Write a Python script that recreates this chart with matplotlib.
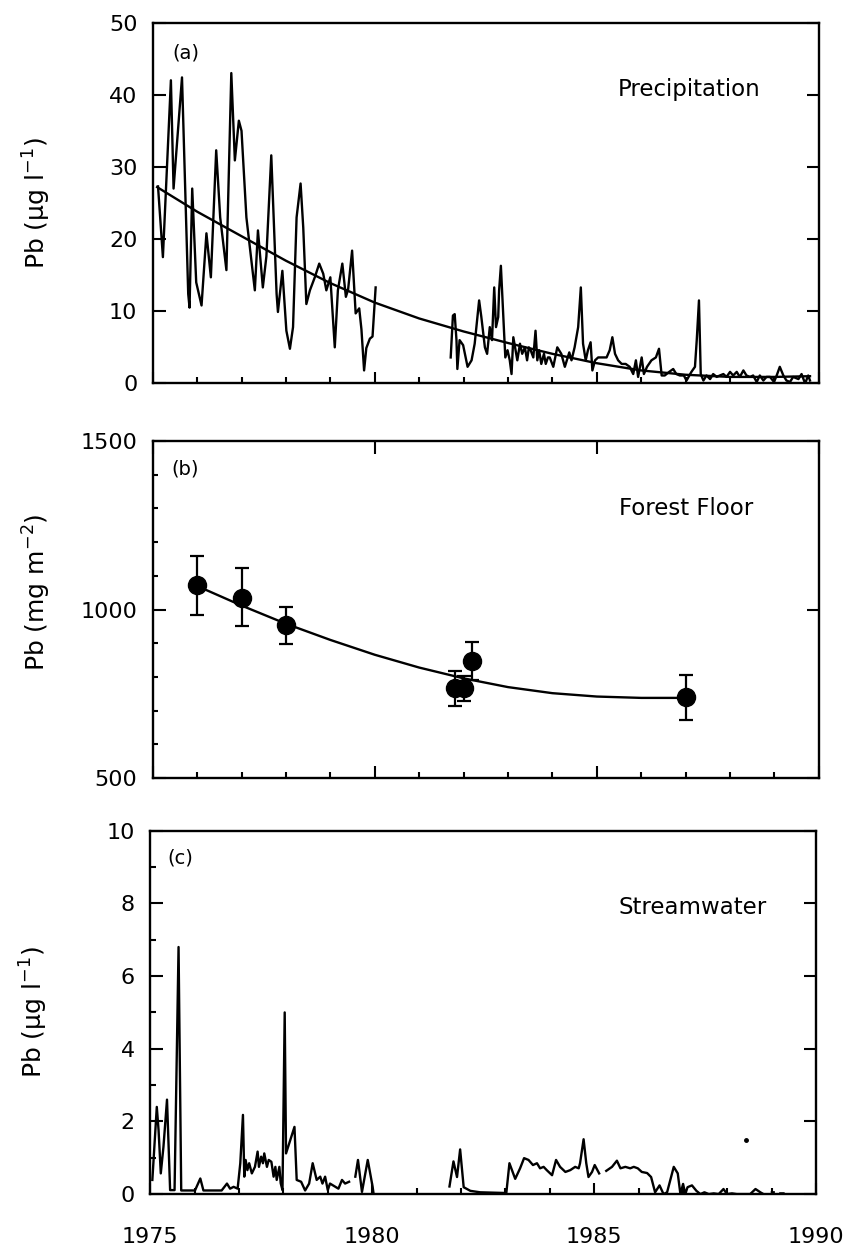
import numpy as np
import matplotlib
matplotlib.use("Agg")
import matplotlib.pyplot as plt

plt.rcParams['font.family'] = ['DejaVu Sans']

# (a) precipitation Pb, ug/l  (nan = gap in record)
precip_year = [1975.12, 1975.23, 1975.41, 1975.47, 1975.66, 1975.80, 1975.83, 1975.89, 1975.98,
               1976.10, 1976.21, 1976.31, 1976.43, 1976.52, 1976.66, 1976.77, 1976.85, 1976.94,
               1977.00, 1977.11, 1977.30, 1977.37, 1977.48, 1977.56, 1977.67, 1977.79, 1977.82,
               1977.92, 1978.01, 1978.09, 1978.16, 1978.24, 1978.33, 1978.39, 1978.46, 1978.54,
               1978.65, 1978.75, 1978.84, 1978.91, 1979.00, 1979.10, 1979.17, 1979.27, 1979.35,
               1979.40, 1979.49, 1979.57, 1979.65, 1979.70, 1979.76, 1979.81, 1979.89, 1979.95,
               1980.02, 1980.9,
               1981.71, 1981.76, 1981.80, 1981.84, 1981.86, 1981.91, 1981.99, 1982.09, 1982.18,
               1982.25, 1982.35, 1982.40, 1982.48, 1982.53, 1982.59, 1982.64, 1982.69, 1982.73,
               1982.78, 1982.80, 1982.84, 1982.88, 1982.91, 1982.94, 1982.99, 1983.04, 1983.08,
               1983.12, 1983.17, 1983.21, 1983.27, 1983.32, 1983.38, 1983.43, 1983.47, 1983.51,
               1983.57, 1983.62, 1983.66, 1983.70, 1983.75, 1983.81, 1983.85, 1983.90, 1983.94,
               1984.02, 1984.11, 1984.20, 1984.28, 1984.38, 1984.43, 1984.50, 1984.58, 1984.64,
               1984.69, 1984.75, 1984.80, 1984.86, 1984.90, 1984.96, 1985.03, 1985.13, 1985.22,
               1985.29, 1985.35, 1985.41, 1985.48, 1985.56, 1985.65, 1985.74, 1985.82, 1985.88,
               1985.93, 1986.01, 1986.06, 1986.13, 1986.23, 1986.33, 1986.40, 1986.46, 1986.53,
               1986.63, 1986.72, 1986.79, 1986.87, 1986.96, 1987.02, 1987.13, 1987.21, 1987.25,
               1987.30, 1987.34, 1987.40, 1987.47, 1987.55, 1987.62, 1987.70, 1987.77, 1987.85,
               1987.92, 1988.00, 1988.07, 1988.15, 1988.22, 1988.30, 1988.37, 1988.45, 1988.52,
               1988.60, 1988.67, 1988.75, 1988.82, 1988.90, 1988.99, 1989.05, 1989.12, 1989.20,
               1989.27, 1989.35, 1989.42, 1989.54, 1989.61, 1989.69, 1989.76, 1989.80]
precip_pb = [27.3, 17.5, 42.0, 27.0, 42.4, 12.4, 10.5, 27.0, 14.0,
             10.8, 20.8, 14.7, 32.3, 23.0, 15.7, 43.0, 30.9, 36.4,
             35.0, 23.0, 12.9, 21.2, 13.3, 17.6, 31.6, 12.4, 9.9,
             15.6, 7.3, 4.8, 7.8, 23.0, 27.7, 21.6, 11.0, 12.9,
             14.7, 16.6, 15.2, 12.9, 14.7, 5.0, 12.9, 16.6, 12.0,
             13.0, 18.4, 9.7, 10.4, 7.5, 1.8, 4.9, 6.2, 6.5,
             13.3, np.nan,
             3.6, 9.4, 9.6, 6.0, 2.0, 6.0, 5.3, 2.3, 3.2,
             5.5, 11.5, 9.2, 5.0, 4.1, 7.8, 6.0, 13.3, 7.8,
             9.2, 12.9, 16.3, 11.0, 7.3, 3.6, 4.6, 3.2, 1.3,
             6.4, 4.6, 3.2, 5.5, 4.1, 5.0, 3.2, 5.0, 4.6,
             3.6, 7.3, 3.2, 4.6, 2.7, 4.1, 2.7, 3.6, 3.6,
             2.3, 5.0, 4.1, 2.3, 4.3, 3.2, 5.0, 7.8, 13.3,
             5.5, 3.2, 4.6, 5.7, 1.8, 3.2, 3.6, 3.6, 3.6,
             4.6, 6.4, 4.1, 3.2, 2.7, 2.7, 2.3, 1.3, 3.2,
             0.9, 3.6, 1.3, 2.3, 3.2, 3.6, 4.8, 1.1, 1.1,
             1.6, 2.0, 1.3, 1.1, 1.1, 0.4, 1.6, 2.3, 6.0,
             11.5, 1.3, 0.4, 1.1, 0.6, 1.3, 0.9, 1.1, 1.3,
             0.9, 1.6, 1.1, 1.6, 0.9, 1.8, 1.1, 0.9, 1.1,
             0.2, 1.1, 0.4, 0.9, 0.9, 0.2, 1.1, 2.3, 1.1,
             0.4, 0.2, 0.9, 0.6, 1.3, 0.0, 1.1, 0.4]
precip_fit_year = [1975.1, 1976, 1977, 1978, 1979, 1980, 1981, 1982, 1983, 1984,
                   1985, 1986, 1987, 1988, 1989, 1989.8]
precip_fit = [27.2, 23.8, 20.4, 17.0, 13.9, 11.2, 9.0, 7.2, 5.6, 4.1,
              2.8, 1.8, 1.2, 0.9, 0.9, 1.0]

# (b) forest floor Pb, mg/m2
ff_year = [1976.0, 1977.0, 1978.0, 1981.8, 1982.0, 1982.2, 1987.0]
ff_mean = [1072, 1035, 953, 766, 766, 846, 741]
ff_low = [983, 951, 898, 714, 729, 790, 671]
ff_high = [1160, 1122, 1009, 818, 803, 903, 807]
ff_fit_year = [1976, 1977, 1978, 1979, 1980, 1981, 1982, 1983, 1984, 1985, 1986, 1987]
ff_fit = [1070, 1012, 958, 910, 866, 828, 796, 770, 752, 742, 738, 738]

# (c) streamwater Pb, ug/l
stream_year = [1975.05, 1975.15, 1975.19, 1975.24, 1975.30, 1975.38, 1975.45, 1975.55, 1975.64,
               1975.70, 1976.01, 1976.13, 1976.20, 1976.61, 1976.73, 1976.80, 1976.88, 1976.97,
               1977.03, 1977.09, 1977.12, 1977.15, 1977.19, 1977.23, 1977.29, 1977.36, 1977.42,
               1977.45, 1977.50, 1977.54, 1977.57, 1977.63, 1977.67, 1977.73, 1977.78, 1977.82,
               1977.85, 1977.91, 1977.94, 1977.98, 1978.03, 1978.06, 1978.25, 1978.30, 1978.40,
               1978.49, 1978.58, 1978.66, 1978.75, 1978.83, 1978.88, 1978.94, 1979.00, 1979.05,
               1979.17, 1979.24, 1979.32, 1979.39, 1979.48, 1979.55,
               1979.62, 1979.68, 1979.77, 1979.90, 1980.01, 1980.03, 1980.9,
               1981.74, 1981.83, 1981.91, 1981.98, 1982.06, 1982.21, 1982.43, 1983.02, 1983.09,
               1983.22, 1983.33, 1983.42, 1983.52, 1983.62, 1983.71, 1983.78, 1983.86, 1983.93,
               1984.05, 1984.14, 1984.23, 1984.35, 1984.46, 1984.57, 1984.65, 1984.68, 1984.76,
               1984.82, 1984.87, 1984.95, 1985.01, 1985.11, 1985.2,
               1985.27, 1985.40, 1985.51, 1985.59, 1985.70, 1985.81, 1985.89, 1985.98, 1986.07,
               1986.19, 1986.28, 1986.37, 1986.47, 1986.56, 1986.64, 1986.71, 1986.79, 1986.88,
               1986.94, 1987.00, 1987.05, 1987.10, 1987.20, 1987.30, 1987.39, 1987.48, 1987.58,
               1987.69, 1987.80, 1987.91, 1987.99, 1988.10, 1988.21, 1988.29, 1988.51, 1988.63,
               1988.74, 1988.81, 1988.9,
               1989.00, 1989.04, 1989.1,
               1989.19, 1989.26]
stream_pb = [0.39, 2.40, 1.76, 0.57, 1.30, 2.60, 0.11, 0.11, 6.80,
             0.10, 0.10, 0.43, 0.10, 0.10, 0.29, 0.15, 0.20, 0.15,
             0.85, 2.18, 0.48, 0.94, 0.66, 0.85, 0.57, 0.75, 1.17,
             0.75, 1.03, 0.85, 1.12, 0.75, 0.94, 0.89, 0.48, 0.75,
             0.39, 0.75, 0.30, 0.11, 5.00, 1.12, 1.85, 0.39, 0.34,
             0.10, 0.29, 0.85, 0.39, 0.48, 0.29, 0.48, 0.11, 0.29,
             0.20, 0.15, 0.39, 0.29, 0.34, np.nan,
             0.48, 0.94, 0.06, 0.94, 0.20, 0.02, np.nan,
             0.21, 0.90, 0.47, 1.23, 0.19, 0.09, 0.05, 0.03, 0.85,
             0.42, 0.71, 0.99, 0.94, 0.80, 0.85, 0.71, 0.75, 0.66,
             0.52, 0.94, 0.75, 0.61, 0.66, 0.75, 0.71, 0.85, 1.51,
             0.85, 0.47, 0.61, 0.80, 0.57, np.nan,
             0.64, 0.75, 0.92, 0.71, 0.75, 0.71, 0.75, 0.71, 0.61,
             0.58, 0.47, 0.05, 0.24, 0.00, 0.05, 0.38, 0.75, 0.57,
             0.00, 0.28, 0.00, 0.19, 0.24, 0.09, 0.00, 0.05, 0.00,
             0.02, 0.00, 0.14, 0.00, 0.02, 0.00, 0.00, 0.00, 0.14,
             0.05, 0.00, np.nan,
             0.05, 0.05, np.nan,
             0.02, 0.02]
stream_dot_year = [1988.42]
stream_dot = [1.5]

fig = plt.figure(figsize=(8.53, 12.53), dpi=100)
ax_a = fig.add_axes([0.179, 0.694, 0.781, 0.288])
ax_b = fig.add_axes([0.179, 0.379, 0.781, 0.269])
ax_c = fig.add_axes([0.176, 0.047, 0.781, 0.290])

lw = 1.7
tick_fs = 16
lab_fs = 18

for ax in (ax_a, ax_b, ax_c):
    for s in ax.spines.values():
        s.set_linewidth(1.7)
    ax.set_xlim(1975, 1990)
    ax.set_xticks(range(1975, 1991, 5))
    ax.set_xticks(range(1975, 1991), minor=True)
    ax.tick_params(axis='both', which='both', direction='in', width=1.5,
                   labelsize=tick_fs, colors='black')
    ax.tick_params(axis='x', which='major', length=8, top=False, labelbottom=False)
    ax.tick_params(axis='x', which='minor', length=4.5, top=False)
    ax.tick_params(axis='y', which='major', length=9, left=True, right=True, pad=11)
    ax.yaxis.set_label_coords(-0.15, 0.5)

# (a)
ax_a.plot(precip_year, precip_pb, color='black', lw=lw)
ax_a.plot(precip_fit_year, precip_fit, color='black', lw=lw)
ax_a.set_ylim(0, 50)
ax_a.set_yticks(range(0, 51, 10))
ax_a.set_ylabel('Pb (µg l$^{-1}$)', fontsize=lab_fs)
ax_a.text(0.03, 0.917, '(a)', transform=ax_a.transAxes, fontsize=14, va='center')
ax_a.text(0.913, 0.814, 'Precipitation', transform=ax_a.transAxes, fontsize=16.5,
          ha='right', va='center')

# (b)
ff_err = [np.array(ff_mean) - np.array(ff_low), np.array(ff_high) - np.array(ff_mean)]
ax_b.plot(ff_fit_year, ff_fit, color='black', lw=lw)
ax_b.errorbar(ff_year, ff_mean, yerr=ff_err, fmt='o', color='black', ms=13,
              capsize=5, elinewidth=1.6, capthick=1.6)
ax_b.set_ylim(500, 1500)
ax_b.set_yticks([500, 1000, 1500])
ax_b.set_yticks(range(500, 1501, 100), minor=True)
ax_b.tick_params(axis='y', which='minor', length=3.5, left=True, right=False)
ax_b.tick_params(axis='x', which='major', top=True, length=9)
ax_b.set_ylabel('Pb (mg m$^{-2}$)', fontsize=lab_fs)
ax_b.yaxis.set_label_coords(-0.15, 0.55)
ax_b.text(0.028, 0.917, '(b)', transform=ax_b.transAxes, fontsize=14, va='center')
ax_b.text(0.902, 0.80, 'Forest Floor', transform=ax_b.transAxes, fontsize=16.5,
          ha='right', va='center')

# (c)
ax_c.plot(stream_year, stream_pb, color='black', lw=lw)
ax_c.plot(stream_dot_year, stream_dot, 'o', color='black', ms=2.5)
ax_c.set_ylim(0, 10)
ax_c.set_yticks(range(0, 11, 2))
ax_c.set_yticks(range(1, 10, 2), minor=True)
ax_c.tick_params(axis='y', which='minor', length=4, left=True, right=False)
ax_c.tick_params(axis='x', which='major', labelbottom=True, pad=24)
ax_c.set_ylabel('Pb (µg l$^{-1}$)', fontsize=lab_fs)
ax_c.text(0.026, 0.926, '(c)', transform=ax_c.transAxes, fontsize=14, va='center')
ax_c.text(0.926, 0.788, 'Streamwater', transform=ax_c.transAxes, fontsize=16.5,
          ha='right', va='center')

fig.savefig('out.png', dpi=100)
